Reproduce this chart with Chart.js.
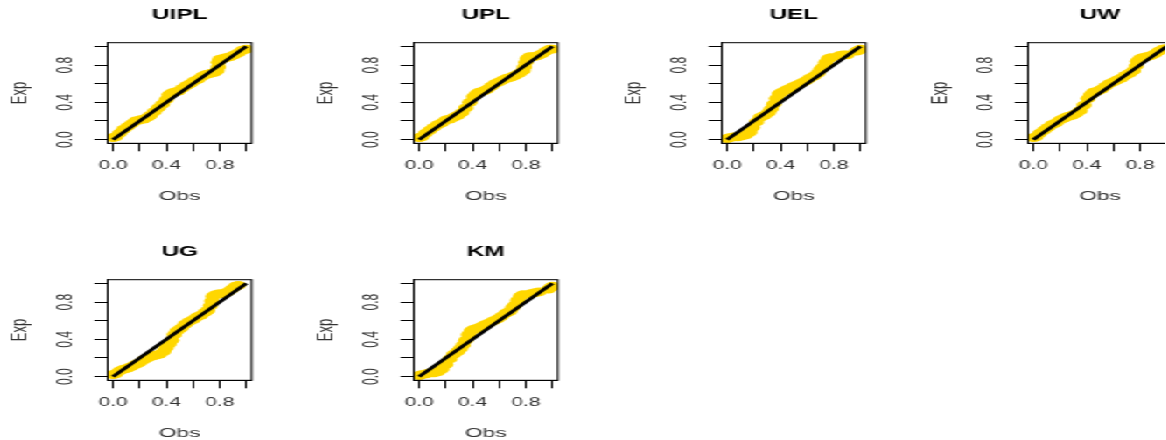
<!DOCTYPE html>
<html>
<head>
<title>P-P plots</title>
<script src="https://cdn.jsdelivr.net/npm/chart.js"></script>
<style>
  html, body { margin: 0; padding: 0; background: #fff; overflow: hidden; }
  /* the original figure is wider than tall, so panels are drawn narrow and stretched */
  #wrap { position: absolute; left: 0; top: 0; width: 666.3px; height: 440px; overflow: hidden;
          transform: scaleX(1.75); transform-origin: 0 0; }
  .panel { position: absolute; width: 176px; height: 237px; }
</style>
</head>
<body>
<div id="wrap"></div>

<script>
const obsUIPL = [0.00, 0.02, 0.05, 0.08, 0.11, 0.14, 0.17, 0.20, 0.23, 0.26, 0.28, 0.31, 0.34, 0.37, 0.40, 0.42, 0.44, 0.46, 0.49, 0.52, 0.55, 0.58, 0.61, 0.64, 0.67, 0.70, 0.73, 0.76, 0.78, 0.79, 0.79, 0.80, 0.82, 0.85, 0.88, 0.91, 0.94, 0.97, 1.00];
const expUIPL = [0.02, 0.03, 0.07, 0.11, 0.14, 0.17, 0.20, 0.21, 0.22, 0.24, 0.26, 0.30, 0.34, 0.38, 0.43, 0.48, 0.50, 0.51, 0.52, 0.55, 0.58, 0.60, 0.63, 0.65, 0.68, 0.70, 0.71, 0.72, 0.74, 0.78, 0.83, 0.86, 0.87, 0.88, 0.89, 0.91, 0.93, 0.96, 0.97];

const obsUPL = [0.00, 0.02, 0.05, 0.08, 0.11, 0.14, 0.17, 0.20, 0.23, 0.26, 0.29, 0.32, 0.35, 0.38, 0.41, 0.43, 0.45, 0.48, 0.51, 0.54, 0.57, 0.60, 0.63, 0.66, 0.69, 0.72, 0.75, 0.78, 0.79, 0.80, 0.81, 0.83, 0.86, 0.89, 0.92, 0.95, 0.98, 1.00];
const expUPL = [0.02, 0.03, 0.07, 0.10, 0.13, 0.16, 0.18, 0.21, 0.22, 0.24, 0.26, 0.29, 0.34, 0.40, 0.46, 0.49, 0.51, 0.52, 0.54, 0.57, 0.60, 0.62, 0.64, 0.66, 0.67, 0.69, 0.71, 0.74, 0.78, 0.83, 0.87, 0.89, 0.89, 0.90, 0.92, 0.95, 0.97, 0.97];

const obsUEL = [0.00, 0.02, 0.05, 0.08, 0.11, 0.14, 0.17, 0.19, 0.22, 0.25, 0.28, 0.31, 0.33, 0.35, 0.37, 0.39, 0.41, 0.44, 0.47, 0.50, 0.53, 0.56, 0.59, 0.62, 0.65, 0.68, 0.70, 0.72, 0.74, 0.76, 0.78, 0.84, 0.87, 0.90, 0.97, 0.99, 1.00];
const expUEL = [0.01, 0.02, 0.03, 0.03, 0.04, 0.05, 0.08, 0.13, 0.19, 0.24, 0.26, 0.29, 0.33, 0.38, 0.44, 0.49, 0.51, 0.53, 0.55, 0.57, 0.59, 0.61, 0.63, 0.66, 0.68, 0.71, 0.75, 0.78, 0.83, 0.87, 0.88, 0.90, 0.91, 0.91, 0.95, 0.96, 0.97];

const obsUW = [0.00, 0.02, 0.05, 0.08, 0.11, 0.14, 0.17, 0.20, 0.23, 0.26, 0.29, 0.32, 0.35, 0.38, 0.41, 0.43, 0.45, 0.48, 0.51, 0.54, 0.57, 0.60, 0.63, 0.66, 0.69, 0.72, 0.75, 0.77, 0.78, 0.80, 0.82, 0.85, 0.88, 0.91, 0.94, 0.97, 1.00];
const expUW = [0.02, 0.03, 0.07, 0.10, 0.13, 0.16, 0.18, 0.21, 0.23, 0.25, 0.26, 0.28, 0.31, 0.37, 0.44, 0.48, 0.51, 0.52, 0.54, 0.57, 0.60, 0.62, 0.64, 0.66, 0.69, 0.71, 0.74, 0.79, 0.84, 0.87, 0.88, 0.89, 0.90, 0.92, 0.95, 0.97, 0.98];

const obsUG = [0.00, 0.02, 0.05, 0.08, 0.11, 0.14, 0.17, 0.20, 0.23, 0.26, 0.29, 0.32, 0.35, 0.38, 0.40, 0.42, 0.44, 0.46, 0.48, 0.51, 0.54, 0.57, 0.60, 0.63, 0.66, 0.69, 0.71, 0.73, 0.74, 0.75, 0.77, 0.80, 0.83, 0.86, 0.89, 0.92, 0.94];
const expUG = [0.02, 0.03, 0.06, 0.08, 0.09, 0.11, 0.13, 0.15, 0.18, 0.20, 0.22, 0.23, 0.24, 0.27, 0.31, 0.35, 0.39, 0.45, 0.49, 0.52, 0.56, 0.59, 0.61, 0.64, 0.66, 0.69, 0.71, 0.76, 0.81, 0.86, 0.88, 0.89, 0.89, 0.91, 0.94, 0.97, 0.98];

const obsKM = [0.00, 0.02, 0.05, 0.08, 0.11, 0.14, 0.17, 0.20, 0.23, 0.26, 0.29, 0.31, 0.33, 0.35, 0.37, 0.39, 0.41, 0.44, 0.47, 0.50, 0.53, 0.56, 0.59, 0.62, 0.65, 0.68, 0.70, 0.72, 0.74, 0.76, 0.78, 0.84, 0.87, 0.90, 0.97, 0.99, 1.00];
const expKM = [0.01, 0.02, 0.03, 0.04, 0.04, 0.05, 0.08, 0.13, 0.19, 0.24, 0.27, 0.30, 0.34, 0.39, 0.45, 0.49, 0.51, 0.52, 0.54, 0.56, 0.58, 0.60, 0.62, 0.65, 0.68, 0.70, 0.74, 0.77, 0.82, 0.86, 0.88, 0.89, 0.90, 0.91, 0.94, 0.96, 0.97];

// the 45 degree reference line
const refObs = [0, 1];
const refExp = [0, 1];

const titles = ['UIPL', 'UPL', 'UEL', 'UW', 'UG', 'KM'];
const tickVals = [0, 0.2, 0.4, 0.6, 0.8, 1.0];
const tickLabels = ['0.0', '', '0.4', '', '0.8', ''];

const panels = [
    {title: titles[0], obs: obsUIPL, exp: expUIPL},
    {title: titles[1], obs: obsUPL, exp: expUPL},
    {title: titles[2], obs: obsUEL, exp: expUEL},
    {title: titles[3], obs: obsUW, exp: expUW},
    {title: titles[4], obs: obsUG, exp: expUG},
    {title: titles[5], obs: obsKM, exp: expKM}
];

Chart.defaults.font.family = "'Liberation Sans', Arial, sans-serif";

// R draws a full box around the plot region
const boxFrame = {
    id: 'boxFrame',
    afterDraw(chart) {
        const a = chart.chartArea;
        const ctx = chart.ctx;
        ctx.save();
        ctx.strokeStyle = '#000';
        ctx.lineWidth = 1;
        ctx.strokeRect(a.left, a.top, a.right - a.left, a.bottom - a.top);
        ctx.restore();
    }
};

function tickText(v) {
    const k = tickVals.indexOf(v);
    return k < 0 ? '' : tickLabels[k];
}

function axisOpts(isX) {
    return {
        type: 'linear',
        min: -0.04,
        max: 1.04,
        afterBuildTicks: s => { s.ticks = tickVals.map(v => ({value: v})); },
        afterFit: isX ? s => { s.height = 93.7; } : s => { s.width = 61.5; },
        grid: { drawOnChartArea: false, drawTicks: true, tickLength: isX ? 8 : 7.6, color: '#000' },
        border: { display: true, color: '#000', width: 1 },
        ticks: {
            autoSkip: false,
            minRotation: isX ? 0 : 90,
            maxRotation: isX ? 0 : 90,
            crossAlign: isX ? 'near' : 'center',
            padding: isX ? 7 : 7.6,
            color: '#333',
            font: { size: 12 },
            callback: tickText
        },
        title: {
            display: true,
            text: isX ? 'Obs' : 'Exp',
            color: '#333',
            font: { size: 13 },
            padding: isX ? { top: 0, bottom: 33.2 } : { top: 3.6, bottom: 0 }
        }
    };
}

const wrap = document.getElementById('wrap');

panels.forEach(function (p, i) {
    const div = document.createElement('div');
    div.className = 'panel';
    div.style.left = (i % 4) * 175.37 + 'px';
    div.style.top = Math.floor(i / 4) * 236.6 + 'px';
    const cv = document.createElement('canvas');
    div.appendChild(cv);
    wrap.appendChild(div);

    new Chart(cv, {
        type: 'scatter',
        data: {
            datasets: [
                {
                    label: 'y = x',
                    data: refObs.map((v, k) => ({x: v, y: refExp[k]})),
                    showLine: true,
                    borderColor: '#000',
                    borderWidth: 2.7,
                    pointRadius: 0,
                    order: 0
                },
                {
                    label: p.title,
                    data: p.obs.map((v, k) => ({x: v, y: p.exp[k]})),
                    backgroundColor: '#FFD700',
                    borderWidth: 0,
                    pointRadius: 4.4,
                    clip: 0,
                    order: 1
                }
            ]
        },
        options: {
            responsive: true,
            maintainAspectRatio: false,
            animation: false,
            layout: { autoPadding: false, padding: { left: 0, right: 32.2, top: 0, bottom: 0 } },
            plugins: {
                legend: { display: false },
                tooltip: { enabled: false },
                title: {
                    display: true,
                    text: p.title,
                    fullSize: false,
                    color: '#000',
                    font: { size: 14, weight: 'bold' },
                    padding: { top: 6.6, bottom: 19.3 }
                }
            },
            scales: { x: axisOpts(true), y: axisOpts(false) }
        },
        plugins: [boxFrame]
    });
});
</script>
</body>
</html>
